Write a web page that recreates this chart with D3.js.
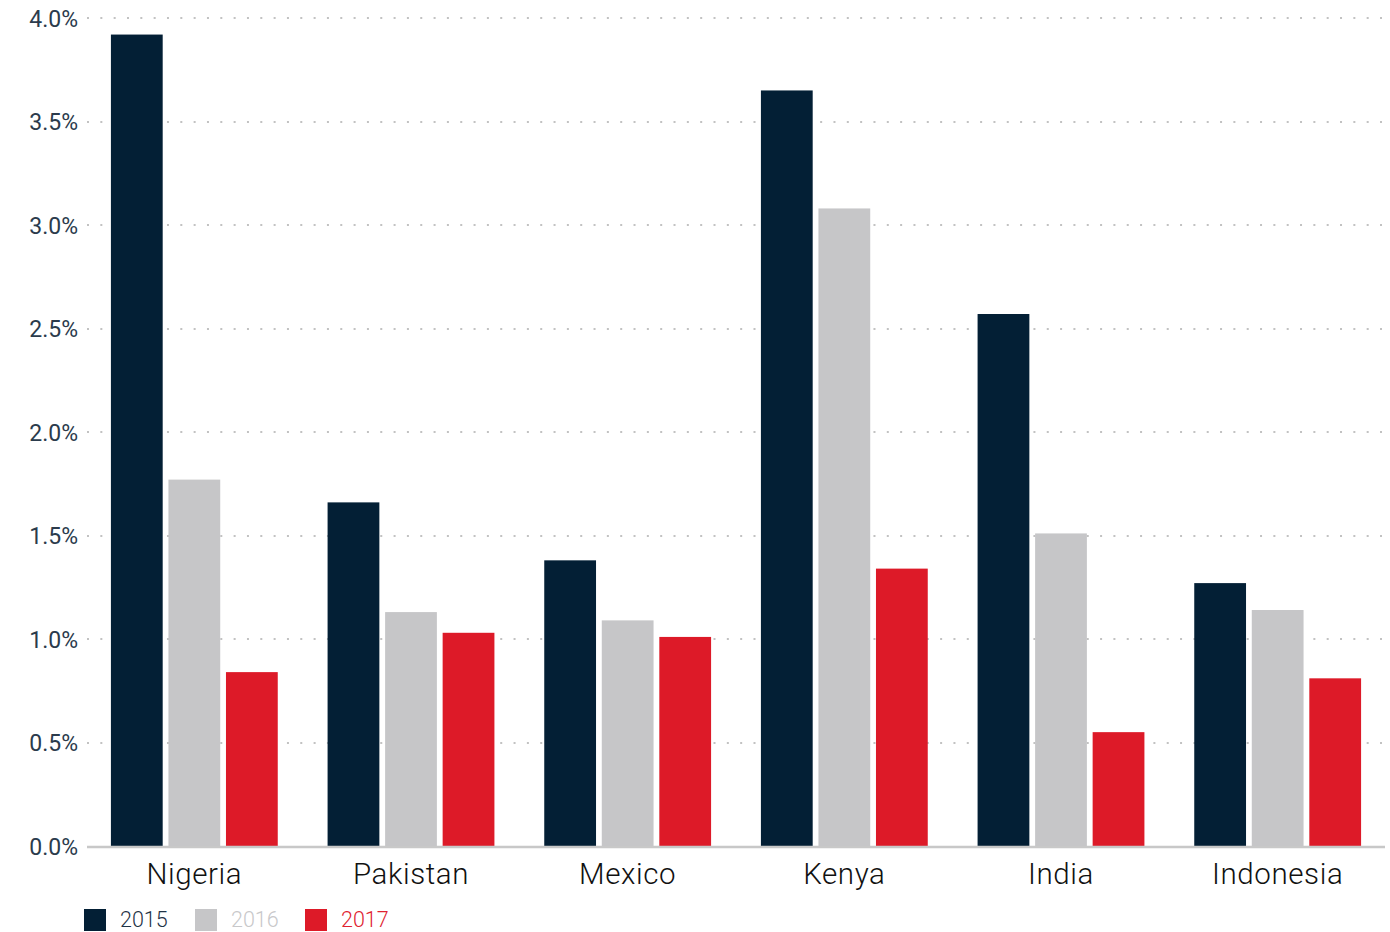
<!DOCTYPE html>
<html>
<head>
<meta charset="utf-8">
<script src="https://cdn.jsdelivr.net/npm/d3@7"></script>
<style>
  html, body { margin: 0; padding: 0; background: #fff; }
  svg { display: block; }
  text { font-family: Roboto, "Open Sans", sans-serif; }
</style>
</head>
<body>
<svg id="chart" width="1390" height="932"></svg>
<script>
// Countries along the x axis
const categories = ["Nigeria", "Pakistan", "Mexico", "Kenya", "India", "Indonesia"];
// Years shown as grouped bars
const years = ["2015", "2016", "2017"];
// Shares (%) per country for each year
const values2015 = [3.92, 1.66, 1.38, 3.65, 2.57, 1.27];
const values2016 = [1.77, 1.13, 1.09, 3.08, 1.51, 1.14];
const values2017 = [0.84, 1.03, 1.01, 1.34, 0.55, 0.81];
// Y axis ticks
const yTicks = [0, 0.5, 1.0, 1.5, 2.0, 2.5, 3.0, 3.5, 4.0];

const colors = { "2015": "#031f35", "2016": "#c6c6c8", "2017": "#dd1a28" };
const legendTextColors = { "2015": "#1f3347", "2016": "#c8c8ca", "2017": "#e0222f" };

const seriesByYear = { "2015": values2015, "2016": values2016, "2017": values2017 };
const rows = categories.map((c, i) => ({
  category: c,
  bars: years.map(y => ({ year: y, value: seriesByYear[y][i] }))
}));

const svg = d3.select("#chart");

const x = d3.scaleBand()
  .domain(categories)
  .range([86, 1386])
  .paddingInner(0.23)
  .paddingOuter(0.115);

const xInner = d3.scaleBand()
  .domain(years)
  .range([0, x.bandwidth()])
  .paddingInner(0.1);

const y = d3.scaleLinear()
  .domain([0, 4])
  .range([846, 18]);

// Dotted horizontal gridlines
svg.append("g")
  .selectAll("line")
  .data(yTicks.filter(t => t > 0))
  .join("line")
  .attr("x1", 87)
  .attr("x2", 1390)
  .attr("y1", d => Math.round(y(d)))
  .attr("y2", d => Math.round(y(d)))
  .attr("stroke", "#c2c2c2")
  .attr("stroke-width", 2)
  .attr("stroke-dasharray", "2,11.33");

// Y axis tick labels
const yAxis = d3.axisLeft(y)
  .tickValues(yTicks)
  .tickFormat(d => d.toFixed(1) + "%")
  .tickSize(0)
  .tickPadding(0);

const yG = svg.append("g")
  .attr("transform", "translate(78,0)")
  .call(yAxis);
yG.select(".domain").remove();
yG.selectAll("text")
  .attr("font-size", 23)
  .attr("font-weight", 400)
  .attr("fill", "#2b3b4c")
  .attr("font-family", "Roboto, sans-serif")
  .attr("dy", "0.35em");

// Bars
const groups = svg.append("g")
  .selectAll("g")
  .data(rows)
  .join("g")
  .attr("transform", d => `translate(${x(d.category)},0)`);

groups.selectAll("rect")
  .data(d => d.bars)
  .join("rect")
  .attr("x", d => xInner(d.year))
  .attr("width", xInner.bandwidth())
  .attr("y", d => y(d.value))
  .attr("height", d => y(0) - y(d.value))
  .attr("fill", d => colors[d.year]);

// Baseline
svg.append("line")
  .attr("x1", 87)
  .attr("x2", 1385)
  .attr("y1", y(0) + 1)
  .attr("y2", y(0) + 1)
  .attr("stroke", "#c8c8c8")
  .attr("stroke-width", 2.5);

// Category labels
const xAxis = d3.axisBottom(x).tickSize(0).tickPadding(0);
const xG = svg.append("g")
  .attr("transform", `translate(0,${y(0)})`)
  .call(xAxis);
xG.select(".domain").remove();
xG.selectAll("text")
  .attr("font-size", 29.5)
  .attr("font-weight", 300)
  .attr("letter-spacing", 0.6)
  .attr("fill", "#111111")
  .attr("font-family", "Roboto, sans-serif")
  .attr("y", 38)
  .attr("dy", 0);

// Legend
const legendX = [84, 195, 305];
const legend = svg.append("g")
  .selectAll("g")
  .data(years)
  .join("g")
  .attr("transform", (d, i) => `translate(${legendX[i]},909)`);

legend.append("rect")
  .attr("width", 22)
  .attr("height", 22)
  .attr("fill", d => colors[d]);

legend.append("text")
  .attr("x", 36)
  .attr("y", 18)
  .attr("font-size", 21.5)
  .attr("font-weight", 300)
  .attr("fill", d => legendTextColors[d])
  .text(d => d);
</script>
</body>
</html>
